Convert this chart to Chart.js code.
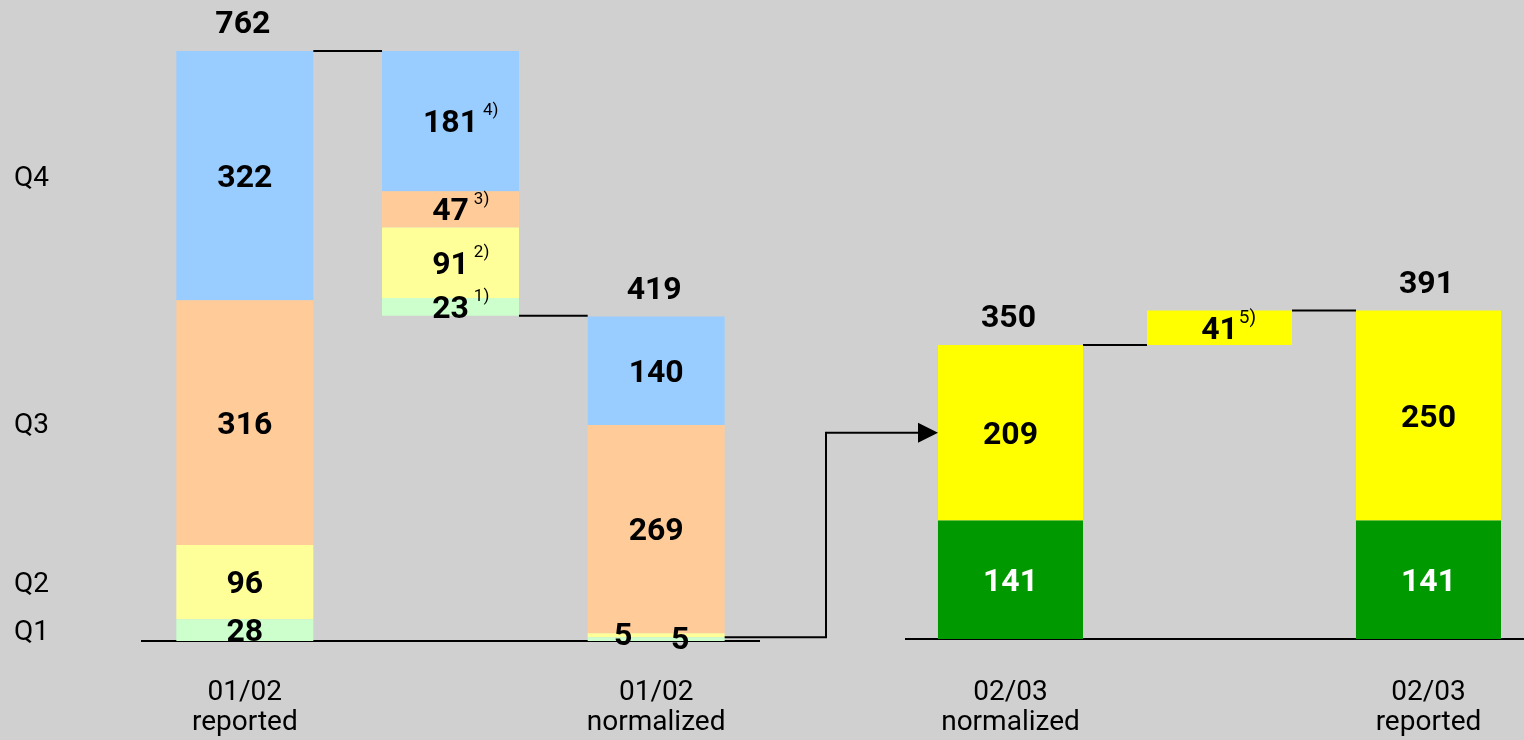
<!DOCTYPE html>
<html>
<head>
<meta charset="utf-8">
<script src="https://cdn.jsdelivr.net/npm/chart.js@4.4.0/dist/chart.umd.min.js"></script>
<style>
  html, body { margin: 0; padding: 0; background: #d0d0d0; overflow: hidden; }
  .box { position: absolute; left: 0; top: 0; width: 1533px; height: 740px; }
</style>
</head>
<body>
<div class="box"><canvas id="leftChart"></canvas></div>
<div class="box"><canvas id="rightChart"></canvas></div>
<script>
// 01/02: reported -> one-offs -> normalized
const leftLabels = [['01/02', 'reported'], '', ['01/02', 'normalized']]
const q1 = [28, 23, 5]
const q2 = [96, 91, 5]
const q3 = [316, 47, 269]
const q4 = [322, 181, 140]
const bridgeNotes = ['1)', '2)', '3)', '4)']
const quarterNames = ['Q1', 'Q2', 'Q3', 'Q4']

// 02/03: normalized -> one-off -> reported
const rightLabels = [['02/03', 'normalized'], '', ['02/03', 'reported']]
const h1 = [141, null, 141]
const h2 = [209, 41, 250]
const rightNote = '5)'

const quarterColors = ['#ccffcc', '#ffff99', '#ffcc99', '#99ccff']
const halfColors = ['#009900', '#ffff00']
const halfText = ['#ffffff', '#000000']

// build floating ranges, the middle bar hangs from the first bar's total
const quarters = [q1, q2, q3, q4]
const leftTotals = q1.map((v, i) => quarters.reduce((s, q) => s + q[i], 0))
const leftStarts = leftTotals.map((t, i) => i === 1 ? leftTotals[0] - t : 0)
const leftRanges = quarters.map((s, k) => s.map((v, i) => {
    let lo = leftStarts[i]
    for (let j = 0; j < k; j++) lo += quarters[j][i]
    return [lo, lo + v]
}))

const halves = [h1, h2]
const rightTotals = h2.map((v, i) => (h1[i] || 0) + v)
const rightStarts = rightTotals.map((t, i) => i === 1 ? rightTotals[0] : 0)
const rightRanges = halves.map((s, k) => s.map((v, i) => {
    if (v == null) return null
    let lo = rightStarts[i]
    for (let j = 0; j < k; j++) lo += halves[j][i] || 0
    return [lo, lo + v]
}))

const numFont = 'bold 32px Roboto'

function labelPlugin(notes, noteSize, noteGap, totals){
    return {
        id: 'labels',
        afterDatasetsDraw(chart){
            const ctx = chart.ctx
            ctx.save()
            ctx.textBaseline = 'middle'
            chart.data.datasets.forEach((ds, di) => {
                const meta = chart.getDatasetMeta(di)
                meta.data.forEach((bar, i) => {
                    const r = ds.data[i]
                    if (!r) return
                    const v = r[1] - r[0]
                    let x = bar.x
                    let y = (bar.y + bar.base) / 2 + 3
                    // the two tiny segments get their numbers pushed sideways
                    if (Math.abs(bar.base - bar.y) < 10) { x += di === 0 ? 24 : -33; y -= 1 }
                    ctx.font = numFont
                    ctx.textAlign = 'center'
                    ctx.fillStyle = ds.textColor
                    ctx.fillText(String(v), x, y)
                    const note = notes[di] && notes[di][i]
                    if (note) {
                        const w = ctx.measureText(String(v)).width
                        ctx.font = noteSize + 'px Roboto'
                        ctx.textAlign = 'left'
                        ctx.fillStyle = '#000'
                        ctx.fillText(note, x + w / 2 + noteGap, y - 13)
                    }
                })
            })
            const last = chart.getDatasetMeta(chart.data.datasets.length - 1)
            totals.forEach((t, i) => {
                if (t == null) return
                ctx.font = numFont
                ctx.textAlign = 'center'
                ctx.fillStyle = '#000'
                ctx.fillText(String(t), last.data[i].x - 2, chart.scales.y.getPixelForValue(t) - 26)
            })
            ctx.restore()
        }
    }
}

function bridgePlugin(links){
    return {
        id: 'bridges',
        afterDatasetsDraw(chart){
            const ctx = chart.ctx
            const bars = chart.getDatasetMeta(chart.data.datasets.length - 1).data
            ctx.save()
            ctx.strokeStyle = '#000'
            ctx.lineWidth = 2
            links.forEach(([a, b, val]) => {
                const y = chart.scales.y.getPixelForValue(val)
                ctx.beginPath()
                ctx.moveTo(bars[a].x + bars[a].width / 2, y)
                ctx.lineTo(bars[b].x - bars[b].width / 2, y)
                ctx.stroke()
            })
            ctx.restore()
        }
    }
}

const leftNotes = quarters.map((q, k) => [null, bridgeNotes[k], null])

const leftChart = new Chart(document.getElementById('leftChart'), {
    type: 'bar',
    data: {
        labels: leftLabels,
        datasets: quarters.map((q, k) => ({
            label: quarterNames[k],
            data: leftRanges[k],
            backgroundColor: quarterColors[k],
            textColor: '#000',
            grouped: false,
            borderWidth: 0,
            barPercentage: 0.666,
            categoryPercentage: 1
        }))
    },
    options: {
        responsive: true,
        maintainAspectRatio: false,
        animation: false,
        layout: { padding: { left: 14, top: 51, right: 774, bottom: 0 } },
        plugins: { legend: { display: false }, tooltip: { enabled: false } },
        scales: {
            x: {
                grid: { display: false, drawTicks: false },
                border: { display: true, color: '#000', width: 2 },
                ticks: { color: '#000', font: { family: 'Roboto', size: 28, lineHeight: 1.07 }, padding: 37, maxRotation: 0, autoSkip: false },
                afterFit: s => { s.height = 99 }
            },
            y: {
                min: 0,
                max: leftTotals[0],
                grid: { display: false, drawTicks: false },
                border: { display: false },
                afterBuildTicks: s => {
                    let acc = 0
                    s.ticks = quarters.map(q => { const mid = acc + q[0] / 2; acc += q[0]; return { value: mid } })
                },
                ticks: {
                    autoSkip: false,
                    crossAlign: 'far',
                    labelOffset: 3,
                    color: '#000',
                    font: { family: 'Roboto', size: 28 },
                    callback: (v, i) => quarterNames[i]
                },
                afterFit: s => { s.width = 128 }
            }
        }
    },
    plugins: [
        bridgePlugin([[0, 1, leftTotals[0]], [1, 2, leftStarts[1]]]),
        labelPlugin(leftNotes, 17, 5, [leftTotals[0], null, leftTotals[2]])
    ]
})

// arrow from the normalized 01/02 bar into the 02/03 bar
const arrowPlugin = {
    id: 'arrow',
    afterDraw(chart){
        const lb = leftChart.getDatasetMeta(0).data[2]
        const rb = chart.getDatasetMeta(0).data[0]
        const x0 = lb.x + lb.width / 2
        const y0 = leftChart.scales.y.getPixelForValue(q1[2])
        const x1 = rb.x - rb.width / 2
        const y1 = chart.scales.y.getPixelForValue(h1[0] + h2[0] / 2)
        const xm = Math.round(x0 + (x1 - x0) * 0.475)
        const ctx = chart.ctx
        ctx.save()
        ctx.strokeStyle = '#000'
        ctx.fillStyle = '#000'
        ctx.lineWidth = 2
        ctx.beginPath()
        ctx.moveTo(x0, y0)
        ctx.lineTo(xm, y0)
        ctx.lineTo(xm, y1)
        ctx.lineTo(x1 - 18, y1)
        ctx.stroke()
        ctx.beginPath()
        ctx.moveTo(x1, y1)
        ctx.lineTo(x1 - 20, y1 - 10)
        ctx.lineTo(x1 - 20, y1 + 10)
        ctx.closePath()
        ctx.fill()
        ctx.restore()
    }
}

const rightChart = new Chart(document.getElementById('rightChart'), {
    type: 'bar',
    data: {
        labels: rightLabels,
        datasets: halves.map((h, k) => ({
            label: 'H' + (k + 1),
            data: rightRanges[k],
            backgroundColor: halfColors[k],
            textColor: halfText[k],
            grouped: false,
            borderWidth: 0,
            barPercentage: 0.694,
            categoryPercentage: 1
        }))
    },
    options: {
        responsive: true,
        maintainAspectRatio: false,
        animation: false,
        layout: { padding: { left: 906, top: 51, right: 0, bottom: 0 } },
        plugins: { legend: { display: false }, tooltip: { enabled: false } },
        scales: {
            x: {
                grid: { display: false, drawTicks: false },
                border: { display: true, color: '#000', width: 2 },
                ticks: { color: '#000', font: { family: 'Roboto', size: 28, lineHeight: 1.07 }, padding: 39, maxRotation: 0, autoSkip: false },
                afterFit: s => { s.height = 101 }
            },
            y: { display: false, min: 0, max: 700 }
        }
    },
    plugins: [
        bridgePlugin([[0, 1, rightTotals[0]], [1, 2, rightTotals[2]]]),
        labelPlugin([[], [null, rightNote, null]], 19, 1, [rightTotals[0], null, rightTotals[2]]),
        arrowPlugin
    ]
})
</script>
</body>
</html>
